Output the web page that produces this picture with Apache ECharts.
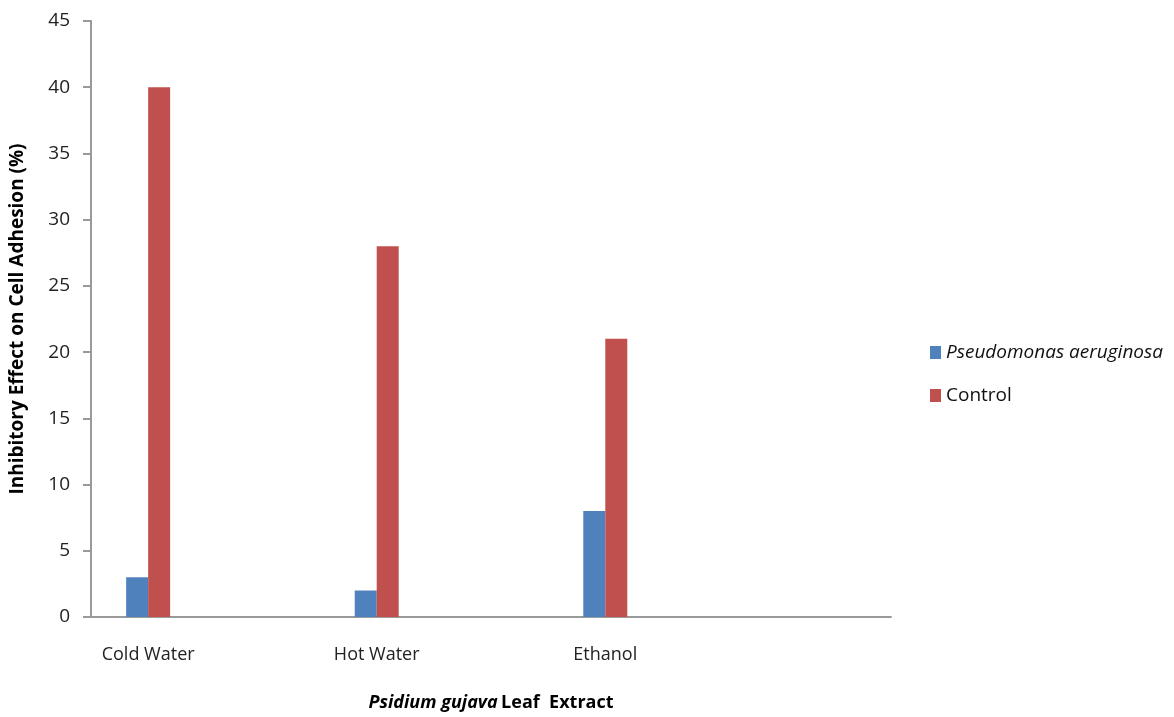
<!DOCTYPE html>
<html>
<head>
<meta charset="utf-8">
<script src="https://cdn.jsdelivr.net/npm/echarts@6/dist/echarts.min.js"></script>
<style>html,body{margin:0;padding:0;background:#fff;overflow:hidden}#c{width:1174px;height:717px}</style>
</head>
<body>
<div id="c"></div>
<script>
const categories = ['Cold Water', '', 'Hot Water', '', 'Ethanol', '', ''];
const pseudomonas = [3, null, 2, null, 8, null, null];
const control = [40, null, 28, null, 21, null, null];
const yTicks = [0, 5, 10, 15, 20, 25, 30, 35, 40, 45];

const FONT = '"Open Sans", "DejaVu Sans", sans-serif';
const chart = echarts.init(document.getElementById('c'), null, {renderer: 'canvas'});
chart.setOption({
  animation: false,
  grid: {left: 91, right: 283, top: 21, height: 599, containLabel: false},
  xAxis: {
    type: 'category',
    data: categories,
    boundaryGap: true,
    axisLine: {lineStyle: {color: '#9a9a9a', width: 2}},
    axisTick: {show: false},
    axisLabel: {interval: 0, color: '#222', fontFamily: FONT, fontSize: 18, margin: 29},
    name: '{i|Psidium gujava} {n|Leaf  Extract}',
    nameLocation: 'middle',
    nameGap: 77,
    nameTextStyle: {
      rich: {
        i: {fontStyle: 'italic', fontWeight: 'bold', fontFamily: FONT, fontSize: 18, color: '#000'},
        n: {fontWeight: 'bold', fontFamily: FONT, fontSize: 18, color: '#000'}
      }
    }
  },
  yAxis: {
    type: 'value',
    min: yTicks[0],
    max: yTicks[yTicks.length - 1],
    interval: 5,
    axisLine: {show: true, lineStyle: {color: '#9a9a9a', width: 2}},
    axisTick: {show: true, length: 8, lineStyle: {color: '#9a9a9a', width: 2}},
    splitLine: {show: false},
    axisLabel: {color: '#222', fontFamily: FONT, fontSize: 19, margin: 21},
    name: 'Inhibitory Effect on Cell Adhesion (%)',
    nameLocation: 'middle',
    nameGap: 64,
    nameRotate: 90,
    nameTextStyle: {fontWeight: 'bold', fontFamily: FONT, fontSize: 19, color: '#000'}
  },
  legend: {
    orient: 'vertical',
    left: 925,
    top: 337,
    itemWidth: 11,
    itemHeight: 13,
    itemGap: 22,
    icon: 'rect',
    textStyle: {fontFamily: FONT, fontSize: 19, lineHeight: 21, color: '#111',
      rich: {i: {fontStyle: 'italic', fontFamily: FONT, fontSize: 19, lineHeight: 21, color: '#111'}}},
    formatter: function (name) {
      return name === 'Pseudomonas aeruginosa' ? '{i|' + name + '}' : name;
    },
    data: ['Pseudomonas aeruginosa', 'Control']
  },
  series: [
    {
      name: 'Pseudomonas aeruginosa',
      type: 'bar',
      data: pseudomonas,
      barWidth: 22,
      barGap: '0%',
      itemStyle: {color: '#4f81bd'}
    },
    {
      name: 'Control',
      type: 'bar',
      data: control,
      barWidth: 22,
      barGap: '0%',
      itemStyle: {color: '#c0504d'}
    }
  ]
});
</script>
</body>
</html>
